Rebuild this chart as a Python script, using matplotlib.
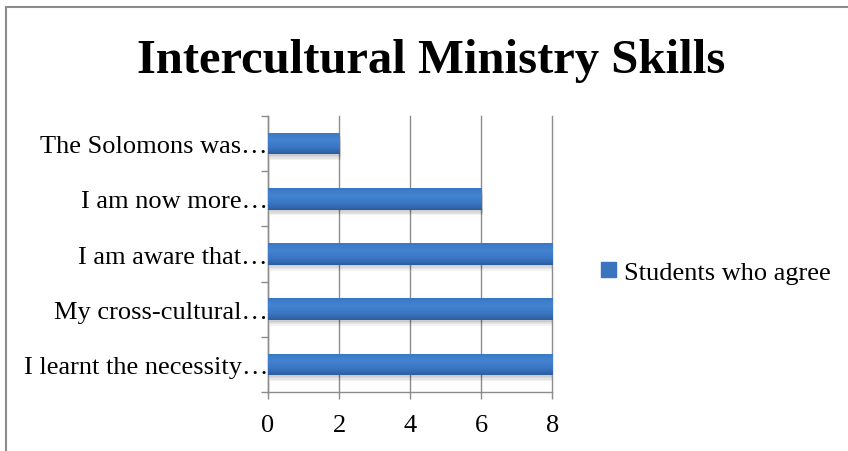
import matplotlib.pyplot as plt
import numpy as np
from matplotlib.patches import Rectangle
from matplotlib.colors import LinearSegmentedColormap

# data, bottom to top as drawn
statements = ['I learnt the necessity\u2026', 'My cross-cultural\u2026',
              'I am aware that\u2026', 'I am now more\u2026', 'The Solomons was\u2026']
agree = [8, 8, 8, 6, 2]
xticks = [0, 2, 4, 6, 8]

plt.rcParams['font.family'] = ['Liberation Serif', 'DejaVu Serif']

fig = plt.figure(figsize=(8.48, 4.52), dpi=100)
ax = fig.add_axes([0.316, 0.1305, 0.3355, 0.6105])

# outer chart border (cut off at right and bottom like the screenshot)
fig.patches.append(Rectangle((6 / 848, -0.1), 2.0, 1.1 - 8 / 452, transform=fig.transFigure,
                             fill=False, edgecolor='#8c8c8c', linewidth=1.5))

ypos = np.arange(len(statements))
h = 0.39

# soft shadow under the bars
for k in range(4):
    ax.barh(ypos - 0.03 - 0.025 * k, agree, height=h, left=0.03 + 0.01 * k,
            color='#000000', alpha=0.05, zorder=2, linewidth=0)

bars = ax.barh(ypos, agree, height=h, color='#3a73be', zorder=3, linewidth=0,
               label='Students who agree')

# vertical gradient on each bar
grad = np.linspace(0, 1, 64).reshape(-1, 1)
cm = LinearSegmentedColormap.from_list('g', ['#2d5e9e', '#3a78c6', '#4483d0', '#3a78c6'])
for b in bars:
    x0, y0 = b.get_x(), b.get_y()
    im = ax.imshow(grad, extent=[x0, x0 + b.get_width(), y0, y0 + b.get_height()],
                   cmap=cm, aspect='auto', origin='lower', zorder=4)
    im.set_clip_path(b)

ax.set_xlim(0, 8)
ax.set_ylim(-0.5, len(statements) - 0.5)
ax.set_xticks(xticks)
ax.set_yticks(ypos)
ax.set_yticklabels(statements)
ax.set_yticks(np.arange(-0.5, len(statements)), minor=True)
ax.tick_params(axis='y', which='major', length=0, pad=0, labelsize=19)
ax.tick_params(axis='y', which='minor', length=5, color='#8c8c8c', width=1)
ax.tick_params(axis='x', length=5, color='#8c8c8c', width=1, labelsize=19, pad=11)

ax.grid(axis='x', color='#8c8c8c', linewidth=1, zorder=0)
for gl in ax.xaxis.get_gridlines():
    gl.set_clip_on(False)
ax.set_axisbelow(True)
for s in ['top', 'right']:
    ax.spines[s].set_visible(False)
for s in ['left', 'bottom']:
    ax.spines[s].set_color('#8c8c8c')
    ax.spines[s].set_linewidth(1)

fig.text(0.508, 0.865, 'Intercultural Ministry Skills', ha='center', va='center',
         fontsize=35, fontweight='bold')

leg = fig.legend(handles=[Rectangle((0, 0), 1, 1, color='#3a73be')],
                 labels=['Students who agree'], loc='center left',
                 bbox_to_anchor=(0.709, 0.394), frameon=False, fontsize=19,
                 handlelength=0.55, handleheight=0.5, handletextpad=0.3,
                 borderpad=0, borderaxespad=0)

fig.savefig('out.png', dpi=100)
